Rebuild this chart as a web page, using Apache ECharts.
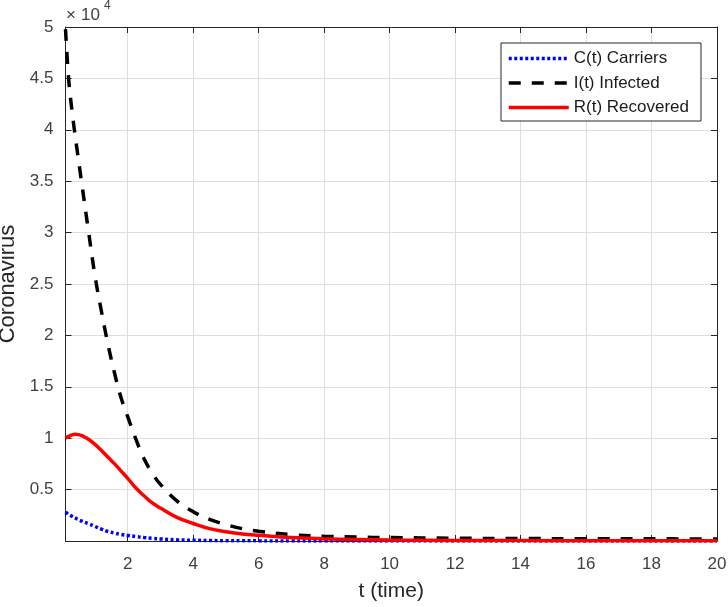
<!DOCTYPE html>
<html>
<head>
<meta charset="utf-8">
<script src="https://cdn.jsdelivr.net/npm/echarts@6/dist/echarts.min.js"></script>
<style>
  html, body { margin: 0; padding: 0; background: #fff; }
  #main { width: 728px; height: 607px; }
</style>
</head>
<body>
<div id="main"></div>
<script>
// time points
var tValues = [0.1, 0.2, 0.3, 0.4, 0.5, 0.6, 0.8, 1.0, 1.2, 1.4, 1.6, 1.8, 2.0, 2.25, 2.5, 2.75,
  3.0, 3.5, 4.0, 4.5, 5.0, 5.5, 6, 7, 8, 9, 10, 12, 14, 16, 18, 20];

// C(t) Carriers
var carriers = [2800, 2590, 2400, 2230, 2060, 1930, 1680, 1420, 1150, 930, 770, 640, 540, 430, 330, 260,
  200, 110, 70, 45, 28, 18, 12, 6, 3, 2, 1, 0, 0, 0, 0, 0];

// I(t) Infected
var infected = [49800, 44800, 41800, 39300, 37000, 34700, 30200, 25800, 22300, 19100, 16300, 13900, 12100, 9900, 8000, 6600,
  5500, 3900, 2850, 2100, 1600, 1200, 950, 620, 460, 380, 330, 270, 240, 220, 210, 200];

// R(t) Recovered
var recovered = [10000, 10180, 10320, 10380, 10350, 10250, 9900, 9400, 8800, 8150, 7500, 6800, 6100, 5150, 4400, 3700,
  3200, 2300, 1700, 1200, 900, 680, 550, 330, 220, 150, 100, 60, 40, 30, 25, 20];

var xTicks = [2, 4, 6, 8, 10, 12, 14, 16, 18, 20];
var seriesNames = ['C(t) Carriers', 'I(t) Infected', 'R(t) Recovered'];

function pairs(ys) {
  var out = [];
  for (var i = 0; i < tValues.length; i++) {
    out.push([tValues[i], ys[i]]);
  }
  return out;
}

var axisColor = '#262626';
var labelColor = '#404040';
var font = 'Liberation Sans, Arial, Helvetica, sans-serif';

var chart = echarts.init(document.getElementById('main'));

var option = {
  animation: false,
  backgroundColor: '#fff',
  grid: {
    left: 65.5,
    right: 11,
    top: 27,
    bottom: 66,
    outerBoundsMode: 'none'
  },
  legend: {
    orient: 'vertical',
    left: 501,
    top: 43,
    padding: [7, 12, 5, 6],
    itemWidth: 60,
    itemHeight: 14,
    itemGap: 7.5,
    backgroundColor: '#fff',
    borderColor: axisColor,
    borderWidth: 1,
    borderRadius: 0,
    itemStyle: { opacity: 0 },
    lineStyle: { width: 3.5 },
    textStyle: { fontFamily: font, fontSize: 17, color: '#1a1a1a' },
    data: seriesNames
  },
  xAxis: [
    {
      type: 'value',
      min: 0.1,
      max: 20,
      name: 't (time)',
      nameLocation: 'middle',
      nameGap: 40,
      nameTextStyle: { fontFamily: font, fontSize: 21, color: axisColor },
      axisLine: { show: true, onZero: false, lineStyle: { color: axisColor, width: 1 } },
      axisTick: { show: true, inside: true, length: 6, customValues: xTicks, lineStyle: { color: axisColor } },
      axisLabel: { show: true, customValues: xTicks, margin: 15, fontFamily: font, fontSize: 17, color: labelColor },
      splitLine: { show: true, lineStyle: { color: '#dedede', width: 1 } }
    },
    {
      type: 'value',
      position: 'top',
      min: 0.1,
      max: 20,
      axisLine: { show: true, onZero: false, lineStyle: { color: axisColor, width: 1 } },
      axisTick: { show: true, inside: true, length: 6, customValues: xTicks, lineStyle: { color: axisColor } },
      axisLabel: { show: false },
      splitLine: { show: false }
    }
  ],
  yAxis: [
    {
      type: 'value',
      min: 0,
      max: 50000,
      interval: 5000,
      name: 'Coronavirus',
      nameLocation: 'middle',
      nameGap: 43,
      nameTextStyle: { fontFamily: font, fontSize: 22, color: axisColor },
      axisLine: { show: true, onZero: false, lineStyle: { color: axisColor, width: 1 } },
      axisTick: { show: true, inside: true, length: 6, lineStyle: { color: axisColor } },
      axisLabel: {
        margin: 12,
        fontFamily: font,
        fontSize: 17,
        color: labelColor,
        formatter: function (v) {
          if (v === 0) return '';
          return String(v / 10000);
        }
      },
      splitLine: { show: true, lineStyle: { color: '#dedede', width: 1 } }
    },
    {
      type: 'value',
      position: 'right',
      min: 0,
      max: 50000,
      interval: 5000,
      axisLine: { show: true, onZero: false, lineStyle: { color: axisColor, width: 1 } },
      axisTick: { show: true, inside: true, length: 6, lineStyle: { color: axisColor } },
      axisLabel: { show: false },
      splitLine: { show: false }
    }
  ],
  graphic: [
    {
      type: 'text',
      left: 66,
      top: 7,
      style: { text: '\u00d7', font: '17px ' + font, fill: labelColor }
    },
    {
      type: 'text',
      left: 81,
      top: 7,
      style: { text: '10', font: '17px ' + font, fill: labelColor }
    },
    {
      type: 'text',
      left: 104,
      top: 0,
      style: { text: '4', font: '12px ' + font, fill: labelColor }
    }
  ],
  series: [
    {
      name: seriesNames[0],
      type: 'line',
      xAxisIndex: 0,
      yAxisIndex: 0,
      symbol: 'none',
      smooth: 0.4,
      data: pairs(carriers),
      lineStyle: { color: '#0000ff', width: 3.5, type: [3, 2.5], cap: 'butt' },
      itemStyle: { color: '#0000ff' }
    },
    {
      name: seriesNames[1],
      type: 'line',
      xAxisIndex: 0,
      yAxisIndex: 0,
      symbol: 'none',
      smooth: 0.4,
      data: pairs(infected),
      lineStyle: { color: '#000000', width: 3.5, type: [12, 11], cap: 'butt' },
      itemStyle: { color: '#000000' }
    },
    {
      name: seriesNames[2],
      type: 'line',
      xAxisIndex: 0,
      yAxisIndex: 0,
      symbol: 'none',
      smooth: 0.4,
      data: pairs(recovered),
      lineStyle: { color: '#ff0000', width: 3.5, type: 'solid' },
      itemStyle: { color: '#ff0000' }
    }
  ]
};

chart.setOption(option);
</script>
</body>
</html>
